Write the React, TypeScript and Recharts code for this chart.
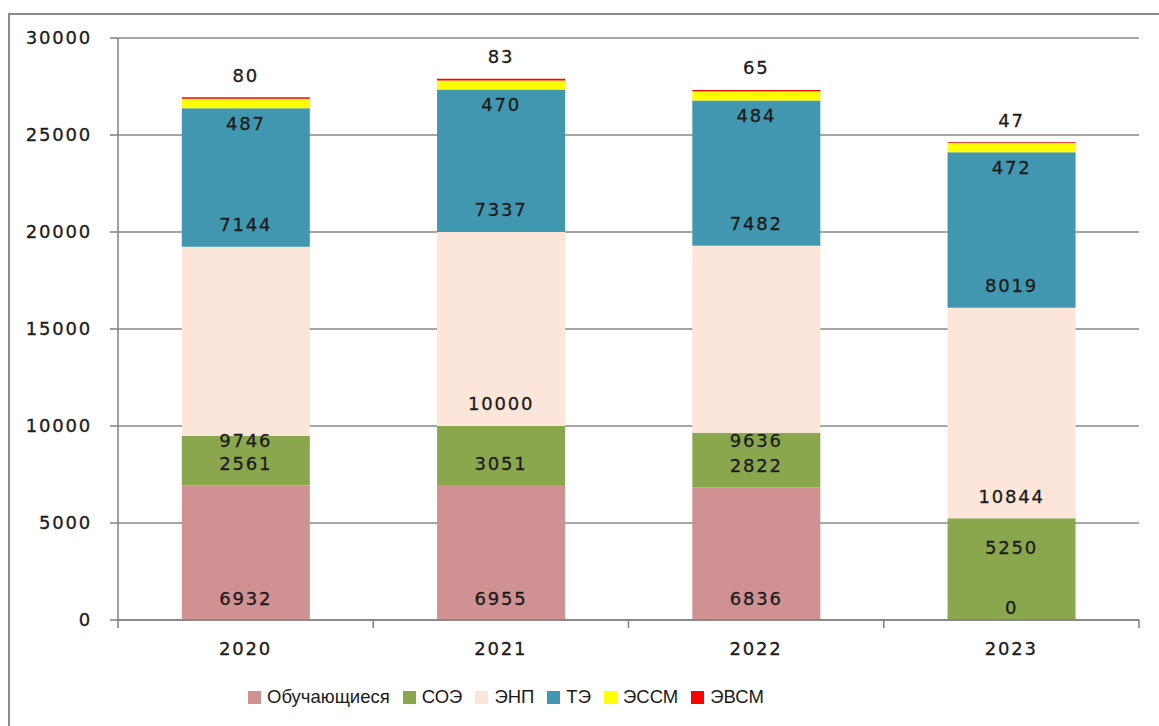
import React from "react";
import { Bar, BarChart, CartesianGrid, LabelList, Legend, XAxis, YAxis } from "recharts";

const years = ["2020", "2021", "2022", "2023"];
const obuchayushchiesya = [6932, 6955, 6836, 0];
const soe = [2561, 3051, 2822, 5250];
const enp = [9746, 10000, 9636, 10844];
const te = [7144, 7337, 7482, 8019];
const essm = [487, 470, 484, 472];
const evsm = [80, 83, 65, 47];
const yTicks = [0, 5000, 10000, 15000, 20000, 25000, 30000];

const series = [
  { key: "obuch", name: "Обучающиеся", color: "#D09193" },
  { key: "soe", name: "СОЭ", color: "#8BA74E" },
  { key: "enp", name: "ЭНП", color: "#FBE6D9" },
  { key: "te", name: "ТЭ", color: "#4197AF" },
  { key: "essm", name: "ЭССМ", color: "#FFFF00" },
  { key: "evsm", name: "ЭВСМ", color: "#FF0000" },
];

const data = years.map((year, i) => ({
  year,
  obuch: obuchayushchiesya[i],
  soe: soe[i],
  enp: enp[i],
  te: te[i],
  essm: essm[i],
  evsm: evsm[i],
}));

// labels that were dragged by hand in the original (px, relative to the default spot)
const labelNudge: Record<string, number> = {
  "1-3": -51,
  "2-0": 27,
  "2-2": 30,
};

const FONT = "'DejaVu Sans', Verdana, sans-serif";

const textStyle = {
  fontFamily: FONT,
  fontSize: 18,
  letterSpacing: 1.8,
  fill: "#1b1b1b",
  stroke: "#1b1b1b",
  strokeWidth: 0.3,
};

function makeLabel(seriesIdx: number) {
  return (props: any) => {
    const { x, y, width, height, value, index } = props;
    const top = Number(y);
    const bottom = top + Number(height);
    const cx = Number(x) + Number(width) / 2;
    let cy: number;
    if (seriesIdx === 5) cy = top - 22;
    else if (seriesIdx === 4) cy = bottom + 15;
    else cy = bottom - 22;
    cy += labelNudge[`${seriesIdx}-${index}`] ?? 0;
    // a zero segment below gets no label of its own, so its "0" is drawn here
    const zeroBelow = seriesIdx === 1 && obuchayushchiesya[index] === 0;
    return (
      <g>
        <text x={cx} y={cy} textAnchor="middle" dominantBaseline="central" {...textStyle}>
          {value}
        </text>
        {zeroBelow && (
          <text x={cx} y={bottom - 13} textAnchor="middle" dominantBaseline="central" {...textStyle}>
            {obuchayushchiesya[index]}
          </text>
        )}
      </g>
    );
  };
}

function YearTick(props: any) {
  const { x, y, payload, index } = props;
  const half = payload.offset ?? 0;
  return (
    <g>
      <line x1={x - half} x2={x - half} y1={y - 8} y2={y} stroke="#808080" strokeWidth={1.5} />
      {index === years.length - 1 && (
        <line x1={x + half} x2={x + half} y1={y - 8} y2={y} stroke="#808080" strokeWidth={1.5} />
      )}
      <text x={x} y={y + 20} textAnchor="middle" dominantBaseline="central" {...textStyle}>
        {payload.value}
      </text>
    </g>
  );
}

function LegendContent() {
  return (
    <div
      style={{
        height: 50,
        boxSizing: "border-box",
        paddingBottom: 8,
        display: "flex",
        alignItems: "center",
        paddingLeft: 248,
        fontFamily: "'Liberation Sans', Arial, sans-serif",
        fontSize: 18.5,
        color: "#1b1b1b",
      }}
    >
      {series.map((s) => (
        <span key={s.key} style={{ display: "flex", alignItems: "center", marginRight: 13 }}>
          <span style={{ width: 13, height: 13, background: s.color, marginRight: 6, display: "inline-block" }} />
          {s.name}
        </span>
      ))}
    </div>
  );
}

export default function App() {
  return (
    <div
      style={{
        position: "absolute",
        left: 0,
        top: 0,
        width: 1159,
        height: 726,
        overflow: "hidden",
        background: "#fff",
      }}
    >
      <div
        style={{
          position: "absolute",
          left: 8,
          top: 13,
          right: -6,
          bottom: -6,
          border: "2px solid #8a8a8a",
        }}
      />
      <BarChart
        width={1159}
        height={726}
        data={data}
        margin={{ top: 38, right: 20, left: 0, bottom: 0 }}
        barCategoryGap="25%"
        style={{ position: "absolute", left: 0, top: 0 }}
      >
        <CartesianGrid vertical={false} stroke="#888" strokeWidth={1.5} />
        <XAxis
          dataKey="year"
          height={56}
          tickLine={false}
          axisLine={{ stroke: "#808080", strokeWidth: 1.5 }}
          tick={<YearTick />}
          interval={0}
        />
        <YAxis
          width={118}
          domain={[0, 30000]}
          ticks={yTicks}
          interval={0}
          tickSize={8}
          tickMargin={18}
          tickLine={{ stroke: "#808080", strokeWidth: 1.5 }}
          axisLine={{ stroke: "#808080", strokeWidth: 1.5 }}
          tick={textStyle}
        />
        <Legend verticalAlign="bottom" content={<LegendContent />} />
        {series.map((s, i) => (
          <Bar key={s.key} dataKey={s.key} name={s.name} stackId="a" fill={s.color} isAnimationActive={false}>
            <LabelList dataKey={s.key} content={makeLabel(i)} />
          </Bar>
        ))}
      </BarChart>
    </div>
  );
}
